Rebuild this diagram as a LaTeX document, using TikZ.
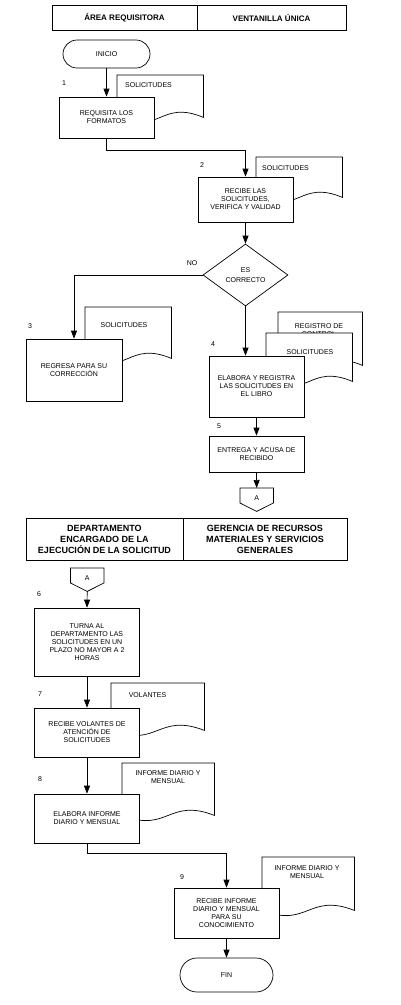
\documentclass[tikz,border=0pt]{standalone}
\usepackage{fontspec}
\setmainfont{Liberation Sans}
\usetikzlibrary{shapes.geometric,arrows.meta,calc}
\newcommand\mydoc[5]{%
  \path (#2,#3) node[anchor=north west, minimum width=#4pt, minimum height=#5pt, inner sep=0pt] (#1) {};
  \draw[ln, fill=white] (#1.north west) -- (#1.north east) -- (#1.south east)
    .. controls ($(#1.south east)+(-#4/2,-18)$) and ($(#1.south west)+(#4/2,18)$) .. (#1.south west) -- cycle;
}
\newcommand\myoff[3]{%
  \path (#2,#3) node[anchor=north west, minimum width=33pt, minimum height=23pt, inner sep=0pt] (#1) {};
  \draw[ln, fill=white] (#1.north west) -- (#1.north east) -- ($(#1.north east)+(0,15)$) -- (#1.south) -- ($(#1.north west)+(0,15)$) -- cycle;
  \node[txt] at ($(#1.north)+(0,10)$) {A};
}
\begin{document}
\begin{tikzpicture}[x=1pt,y=-1pt,
  ln/.style={line width=0.7pt},
  txt/.style={font=\fontsize{7}{8}\selectfont, align=center, inner sep=0pt},
  box/.style={draw, ln, fill=white, align=center, inner sep=1pt, font=\fontsize{7}{8}\selectfont},
  term/.style={box},
  cell/.style={draw, ln, align=center, inner sep=0pt, font=\bfseries\fontsize{8}{10}\selectfont},
  cellb/.style={draw, ln, align=center, inner sep=0pt, font=\bfseries\fontsize{9}{11}\selectfont},
  dia/.style={draw, ln, fill=white, diamond, align=center, inner sep=0pt, font=\fontsize{7}{10}\selectfont},
  arr/.style={ln, -{Triangle[length=8pt,width=6pt]}},
]
\useasboundingbox (0,0) rectangle (401,1005);

% ---------- header 1
\node[cell, minimum width=145pt, minimum height=25pt] (h1a) at (124.5,17.5) {ÁREA REQUISITORA};
\node[cell, minimum width=149pt, minimum height=25pt] (h1b) at (271.5,17.5) {VENTANILLA ÚNICA};

% ---------- documents (behind)
\mydoc{d1}{117}{75}{86}{42}
\node[txt, anchor=west] (t1) at (125,85) {SOLICITUDES};
\mydoc{d2}{256}{157}{86}{40}
\node[txt, anchor=west] (t2) at (262,168) {SOLICITUDES};
\mydoc{d3}{85}{307}{86}{51}
\node[txt] (t3) at (124,325) {SOLICITUDES};
\mydoc{d4a}{278}{312}{84}{53}
\node[txt] (t4a) at (319,330) {REGISTRO DE\\CONTROL};
\mydoc{d4b}{266}{333}{86}{48}
\node[txt] (t4b) at (310,352) {SOLICITUDES};
\mydoc{d7}{111}{683}{93}{47}
\node[txt] (t7) at (147.5,695) {VOLANTES};
\mydoc{d8}{122}{763}{92}{52}
\node[txt] (t8) at (168,777.5) {INFORME DIARIO Y\\MENSUAL};
\mydoc{d9}{262}{857}{92}{53}
\node[txt] (t9) at (307,872) {INFORME DIARIO Y\\MENSUAL};

% ---------- top flow
\node[term, rounded corners=14pt, minimum width=87pt, minimum height=28pt] (ini) at (106.5,54) {INICIO};
\node[box, minimum width=95pt, minimum height=41pt] (b1) at (106.5,117.5) {REQUISITA LOS\\FORMATOS};
\node[box, minimum width=95pt, minimum height=45pt] (b2) at (245.5,199.5) {RECIBE LAS\\SOLICITUDES,\\VERIFICA Y VALIDAD};
\node[dia, minimum width=85pt, minimum height=62pt] (q) at (245.5,275) {ES\\CORRECTO};
\node[box, minimum width=96pt, minimum height=62pt] (b3) at (74,370) {REGRESA PARA SU\\CORRECCIÓN};
\node[box, minimum width=95pt, minimum height=61pt] (b4) at (256.5,386.5) {ELABORA Y REGISTRA\\LAS SOLICITUDES EN\\EL LIBRO};
\node[box, minimum width=95pt, minimum height=36pt] (b5) at (256.5,454) {ENTREGA Y ACUSA DE\\RECIBIDO};
\myoff{oa}{240}{488}

% numbers
\node[txt] (n1) at (64,83) {1};
\node[txt] (n2) at (202,165) {2};
\node[txt] (n3) at (30,326) {3};
\node[txt] (n4) at (213,344) {4};
\node[txt] (n5) at (219,426) {5};
\node[txt] (no) at (192,263) {NO};

% connectors
\draw[arr] (ini) -- (b1);
\draw[arr] (b1.south) -- ++(0,12) -| (b2.north);
\draw[arr] (b2) -- (q);
\draw[arr] (q.west) -| (b3.north);
\draw[arr] (q.south) -- (q.south |- b4.north);
\draw[arr] (b4) -- (b5);
\draw[arr] (b5.south) -- (oa.north);

% ---------- header 2
\node[cellb, minimum width=157pt, minimum height=42pt] (h2a) at (104.5,539) {DEPARTAMENTO\\ENCARGADO DE LA\\EJECUCIÓN DE LA SOLICITUD};
\node[cellb, minimum width=164pt, minimum height=42pt] (h2b) at (265,539) {GERENCIA DE RECURSOS\\MATERIALES Y SERVICIOS\\GENERALES};

% ---------- bottom flow
\myoff{ob}{70.5}{568}
\node[box, minimum width=105pt, minimum height=68pt] (b6) at (87,642) {TURNA AL\\DEPARTAMENTO LAS\\SOLICITUDES EN UN\\PLAZO NO MAYOR A 2\\HORAS};
\node[box, minimum width=105pt, minimum height=49pt] (b7) at (87,732.5) {RECIBE VOLANTES DE\\ATENCIÓN DE\\SOLICITUDES};
\node[box, minimum width=105pt, minimum height=49pt] (b8) at (87,818.5) {ELABORA INFORME\\DIARIO Y MENSUAL};
\node[box, minimum width=105pt, minimum height=50pt] (b9) at (226.5,913) {RECIBE INFORME\\DIARIO Y MENSUAL\\PARA SU\\CONOCIMIENTO};
\node[term, rounded corners=17pt, minimum width=93pt, minimum height=34pt] (fin) at (226.5,975) {FIN};

\node[txt] (n6) at (39,594) {6};
\node[txt] (n7) at (40,694) {7};
\node[txt] (n8) at (40,779) {8};
\node[txt] (n9) at (182,877) {9};

\draw[arr] (ob.south) -- (b6.north);
\draw[arr] (b6) -- (b7);
\draw[arr] (b7) -- (b8);
\draw[arr] (b8.south) -- ++(0,10) -| (b9.north);
\draw[arr] (b9) -- (fin);
\end{tikzpicture}
\end{document}
